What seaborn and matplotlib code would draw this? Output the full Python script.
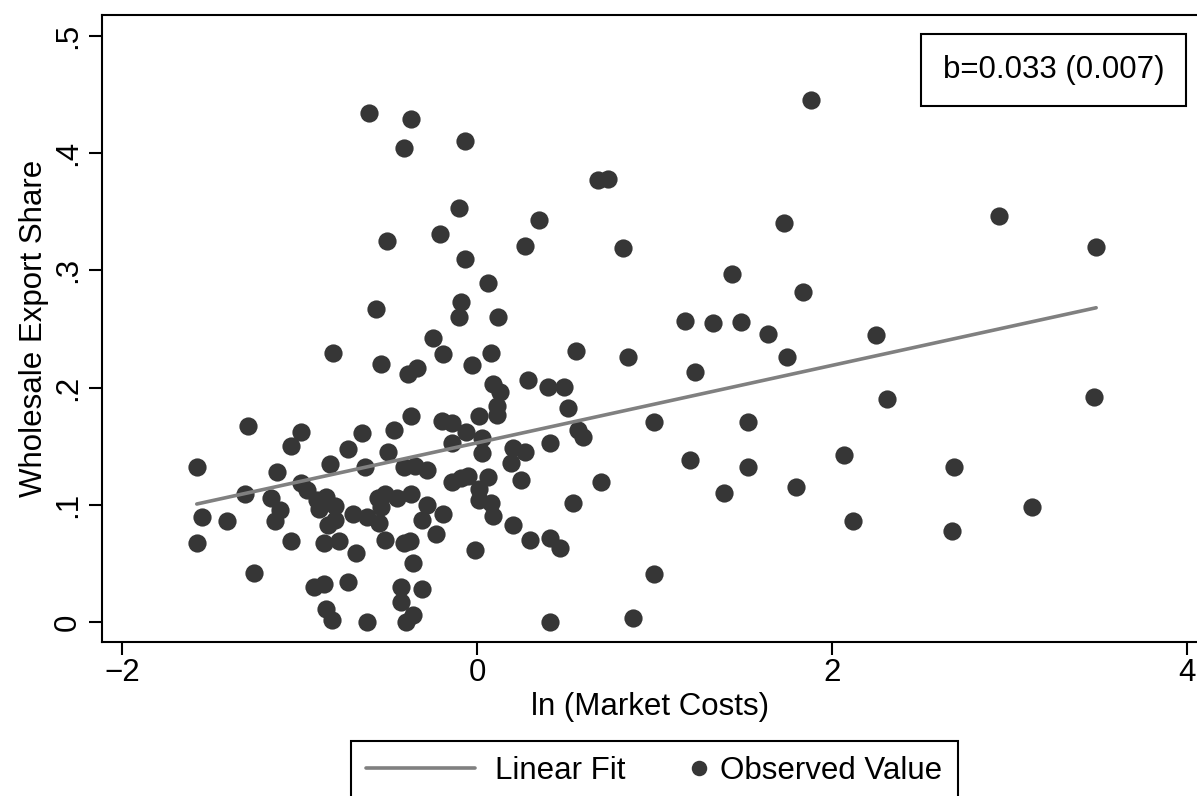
import numpy as np
import pandas as pd
import matplotlib
matplotlib.use("Agg")
import matplotlib.pyplot as plt
import seaborn as sns
from matplotlib.legend_handler import HandlerPathCollection

# Observations: log market costs vs. wholesale export share
ln_market_costs = [
    -1.58, -1.55, -1.58, -1.41, -1.29, -1.26, -1.31, -1.13, -1.05, -0.99,
    -0.99, -1.16, -1.11, -1.14, -1.05, -0.96, -0.90, -0.85, -0.89, -0.80,
    -0.84, -0.80, -0.86, -0.78, -0.92, -0.86, -0.85, -0.82, -0.81, -0.83,
    -0.73, -0.65, -0.73, -0.68, -0.70, -0.62, -0.63, -0.62, -0.54, -0.51,
    -0.57, -0.61, -0.56, -0.52, -0.45, -0.54, -0.55, -0.52, -0.47, -0.50,
    -0.43, -0.43, -0.41, -0.37, -0.39, -0.34, -0.37, -0.41, -0.35, -0.28,
    -0.37, -0.28, -0.19, -0.31, -0.23, -0.41, -0.38, -0.36, -0.31, -0.36,
    -0.40, -0.25, -0.19, -0.21, -0.10, -0.07, -0.07, -0.09, -0.10, -0.20,
    -0.14, -0.06, -0.14, 0.01, 0.03, 0.03, -0.03, 0.08, 0.06, 0.12,
    0.09, 0.13, 0.11, 0.11, -0.14, -0.09, -0.05, 0.06, 0.01, 0.01,
    0.08, 0.09, -0.01, 0.27, 0.35, 0.29, 0.40, 0.49, 0.56, 0.51,
    0.20, 0.27, 0.19, 0.41, 0.57, 0.60, 0.25, 0.54, 0.20, 0.30,
    0.41, 0.47, 0.41, 0.68, 0.74, 0.82, 0.70, 0.85, 0.88, 1.00,
    1.00, 1.17, 1.33, 1.49, 1.23, 1.20, 1.44, 1.39, 1.53, 1.53,
    1.64, 1.73, 1.75, 1.80, 1.84, 1.88, 2.07, 2.12, 2.25, 2.31,
    2.69, 2.68, 2.94, 3.13, 3.48, 3.49,
]
export_share = [
    0.132, 0.090, 0.068, 0.086, 0.167, 0.042, 0.109, 0.128, 0.150, 0.162,
    0.119, 0.106, 0.096, 0.086, 0.069, 0.113, 0.104, 0.107, 0.097, 0.099,
    0.083, 0.087, 0.068, 0.069, 0.030, 0.033, 0.011, 0.002, 0.230, 0.135,
    0.148, 0.161, 0.034, 0.059, 0.092, 0.090, 0.132, 0.000, 0.220, 0.325,
    0.267, 0.434, 0.106, 0.109, 0.106, 0.098, 0.085, 0.070, 0.164, 0.145,
    0.030, 0.017, 0.404, 0.429, 0.212, 0.217, 0.176, 0.132, 0.133, 0.130,
    0.109, 0.100, 0.092, 0.087, 0.075, 0.068, 0.069, 0.051, 0.028, 0.006,
    0.000, 0.242, 0.229, 0.331, 0.353, 0.410, 0.310, 0.273, 0.260, 0.172,
    0.170, 0.162, 0.153, 0.176, 0.157, 0.144, 0.219, 0.230, 0.289, 0.260,
    0.203, 0.196, 0.184, 0.177, 0.120, 0.123, 0.125, 0.124, 0.114, 0.104,
    0.102, 0.091, 0.062, 0.321, 0.343, 0.207, 0.201, 0.201, 0.231, 0.183,
    0.149, 0.145, 0.136, 0.153, 0.164, 0.158, 0.121, 0.102, 0.083, 0.070,
    0.072, 0.063, 0.000, 0.377, 0.378, 0.319, 0.120, 0.226, 0.004, 0.171,
    0.041, 0.257, 0.255, 0.256, 0.213, 0.138, 0.297, 0.110, 0.132, 0.171,
    0.246, 0.340, 0.226, 0.115, 0.282, 0.445, 0.143, 0.086, 0.245, 0.190,
    0.132, 0.078, 0.346, 0.098, 0.192, 0.320,
]

# Linear fit: slope (standard error) and intercept
fit_slope = 0.033
fit_se = 0.007
fit_intercept = 0.153

x_ticks = [-2, 0, 2, 4]
y_ticks = [0, 0.1, 0.2, 0.3, 0.4, 0.5]
y_tick_labels = ["0", ".1", ".2", ".3", ".4", ".5"]

FS = 22.5
DOT = "#363636"
LINE = "#808080"

sns.set_style("white")
plt.rcParams["font.family"] = ["Liberation Sans", "DejaVu Sans"]
plt.rcParams["text.color"] = "black"
plt.rcParams["axes.labelcolor"] = "black"
plt.rcParams["xtick.color"] = "black"
plt.rcParams["ytick.color"] = "black"

obs = pd.DataFrame({"ln_cost": ln_market_costs, "share": export_share})
x_line = np.array([obs["ln_cost"].min(), obs["ln_cost"].max()])
fit = pd.DataFrame({"ln_cost": x_line, "share": fit_intercept + fit_slope * x_line})

fig = plt.figure(figsize=(11.97, 7.96), dpi=100)
ax = fig.add_axes([0.0850, 0.1938, 0.9167, 0.7873])

sns.scatterplot(data=obs, x="ln_cost", y="share", ax=ax, color=DOT, s=172,
                linewidth=0, label="Observed Value", zorder=2)
sns.lineplot(data=fit, x="ln_cost", y="share", ax=ax, color=LINE, lw=2.6,
             label="Linear Fit", zorder=3)
if ax.get_legend() is not None:
    ax.get_legend().remove()

ax.set_xlim(-2.1156, 4.070)
ax.set_ylim(-0.01654, 0.5177)
ax.set_xticks(x_ticks)
ax.set_yticks(y_ticks)
ax.set_yticklabels(y_tick_labels)

for side, sp in ax.spines.items():
    sp.set_color("black")
    sp.set_linewidth(1.5)
    sp.set_visible(side != "right")

ax.tick_params(axis="both", direction="out", length=9.5, width=1.5,
               labelsize=FS, bottom=True, left=True)
ax.tick_params(axis="x", pad=2)
ax.tick_params(axis="y", pad=4)
plt.setp(ax.get_yticklabels(), rotation=90, va="center")

ax.set_xlabel("ln (Market Costs)", fontsize=FS, labelpad=3)
ax.set_ylabel("Wholesale Export Share", fontsize=FS, labelpad=3)

ax.text(0.8674, 0.9122, f"b={fit_slope:.3f} ({fit_se:.3f})",
        transform=ax.transAxes, ha="center", va="center", fontsize=FS,
        bbox=dict(boxstyle="square,pad=0.68", fc="white", ec="black", lw=1.5),
        zorder=5)


class RightMarkerHandler(HandlerPathCollection):
    """Place the scatter marker at the right end of the handle box."""
    def get_xdata(self, legend, xdescent, ydescent, width, height, fontsize):
        xm = -xdescent + width - 0.05 * fontsize
        return [xm], [xm]


handles, labels = ax.get_legend_handles_labels()
lookup = dict(zip(labels, handles))
order = ["Linear Fit", "Observed Value"]
leg = fig.legend([lookup[k] for k in order], order, loc="upper center",
                 bbox_to_anchor=(0.5468, 0.0691), bbox_transform=fig.transFigure,
                 ncol=2, fontsize=FS, frameon=True, fancybox=False,
                 edgecolor="black", framealpha=1, handlelength=3.46,
                 handletextpad=0.64, columnspacing=-1.05, borderpad=0.48,
                 borderaxespad=0, scatterpoints=1, scatteryoffsets=[0.5],
                 markerscale=0.85,
                 handler_map={type(lookup["Observed Value"]): RightMarkerHandler()})
leg.get_frame().set_linewidth(1.5)

fig.savefig("out.png", dpi=100)
